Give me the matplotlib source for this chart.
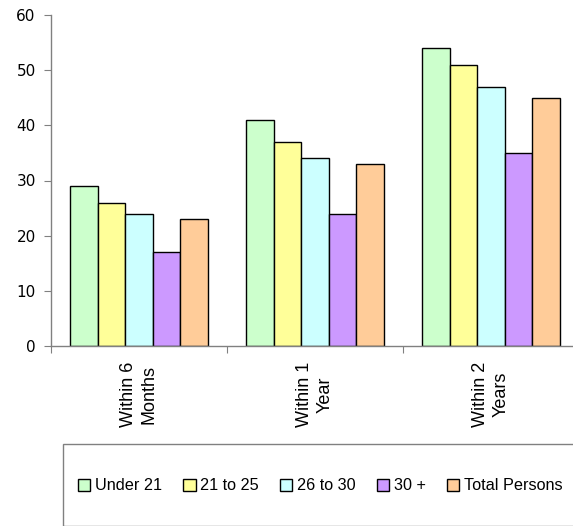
import numpy as np
from matplotlib import pyplot as plt
from matplotlib.patches import Rectangle

# Chart data
categories = ["Within 6\nMonths", "Within 1\nYear", "Within 2\nYears"]
seriesNames = ["Under 21", "21 to 25", "26 to 30", "30 +", "Total Persons"]
under21 = [29, 41, 54]
age21to25 = [26, 37, 51]
age26to30 = [24, 34, 47]
age30plus = [17, 24, 35]
totalPersons = [23, 33, 45]
colors = ["#CCFFCC", "#FFFF99", "#CCFFFF", "#CC99FF", "#FFCC99"]

seriesValues = [under21, age21to25, age26to30, age30plus, totalPersons]

W, H = 573, 526
fig = plt.figure(figsize=(W / 100, H / 100), dpi=100)

# Axes placed in pixel terms
left, right, top, bottom = 51, 579, 15, 346
ax = fig.add_axes([left / W, 1 - bottom / H, (right - left) / W, (bottom - top) / H])

x = np.arange(len(categories))
groupWidth = 0.78
barWidth = groupWidth / len(seriesValues)
for i, values in enumerate(seriesValues):
    offsets = x - groupWidth / 2 + barWidth * (i + 0.5)
    ax.bar(offsets, values, width=barWidth, color=colors[i], edgecolor="black",
           linewidth=1.0, label=seriesNames[i])

ax.set_xlim(-0.5, len(categories) - 0.5)
ax.set_ylim(0, 60)
ax.set_yticks(np.arange(0, 61, 10))
ax.tick_params(axis="y", labelsize=11, length=5, color="#808080", pad=6)

# Category labels between boundary ticks
ax.set_xticks(np.arange(-0.5, len(categories), 1.0))
ax.set_xticklabels([])
ax.tick_params(axis="x", length=5, color="#808080")
for xi, label in zip(x, categories):
    ax.text(xi, -2.9, label, rotation=90, ha="center", va="top",
            fontsize=13, family="Liberation Sans", linespacing=1.25,
            multialignment="center")

for side in ["top", "right"]:
    ax.spines[side].set_visible(False)
for side in ["left", "bottom"]:
    ax.spines[side].set_color("#808080")
    ax.spines[side].set_linewidth(1.0)

# Legend box
box = Rectangle((63 / W, 0), 1.0, 1 - 444 / H, transform=fig.transFigure,
                facecolor="none", edgecolor="#808080", linewidth=1.0)
fig.patches.append(box)

fig.legend(loc="center left", bbox_to_anchor=(70 / W, 1 - 486 / H), ncol=5,
           frameon=False, borderpad=0, handlelength=0.75, handleheight=0.75,
           handletextpad=0.3, columnspacing=1.3,
           prop={"family": "Liberation Sans", "size": 11.7})

fig.savefig("out.png", dpi=100)
